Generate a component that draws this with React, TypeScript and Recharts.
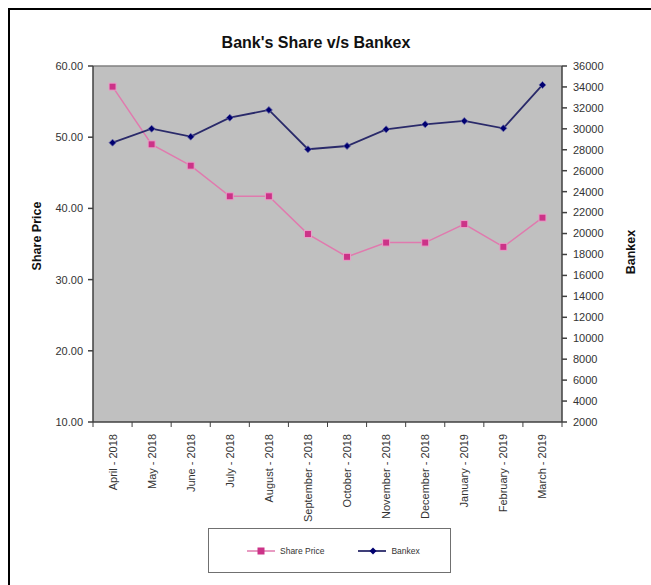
import React from "react";
import {
  LineChart,
  Line,
  XAxis,
  YAxis,
  CartesianGrid,
  Legend,
  ReferenceLine,
} from "recharts";

const months = [
  "April - 2018",
  "May - 2018",
  "June - 2018",
  "July - 2018",
  "August - 2018",
  "September - 2018",
  "October - 2018",
  "November - 2018",
  "December - 2018",
  "January - 2019",
  "February - 2019",
  "March - 2019",
];

const sharePrice = [57.1, 49.0, 46.0, 41.7, 41.7, 36.4, 33.2, 35.2, 35.2, 37.8, 34.6, 38.7];
const bankex = [28680, 30010, 29250, 31060, 31800, 28050, 28360, 29950, 30430, 30750, 30050, 34190];

const priceTicks = [10, 20, 30, 40, 50, 60];
const bankexTicks = [
  2000, 4000, 6000, 8000, 10000, 12000, 14000, 16000, 18000, 20000, 22000, 24000,
  26000, 28000, 30000, 32000, 34000, 36000,
];

const data = months.map((m, i) => ({
  month: m,
  price: sharePrice[i],
  bankex: bankex[i],
}));

const W = 641;
const H = 575;
const MARGIN = { top: 56, left: 23, right: 29, bottom: 0 };
const AXIS_W = 60;
const PLOT_W = W - MARGIN.left - MARGIN.right - AXIS_W * 2;
const BAND = PLOT_W / months.length;

const PINK = "#cc3388";
const PINK_LINE = "#e07aae";
const NAVY = "#000070";
const NAVY_LINE = "#2a2a6a";
const AXIS = "#404040";
const FONT = "'Liberation Sans', Arial, sans-serif";

const MonthTick = (props: any) => {
  const { x, y, payload, index } = props;
  return (
    <g>
      <line x1={x - BAND / 2} x2={x - BAND / 2} y1={y} y2={y + 5} stroke={AXIS} />
      {index === months.length - 1 && (
        <line x1={x + BAND / 2} x2={x + BAND / 2} y1={y} y2={y + 5} stroke={AXIS} />
      )}
      <text
        x={x}
        y={y + 12}
        transform={`rotate(-90 ${x} ${y + 12})`}
        textAnchor="end"
        dominantBaseline="central"
        fontSize={11}
        fill="#333"
      >
        {payload.value}
      </text>
    </g>
  );
};

const SquareDot = (props: any) => {
  const { cx, cy } = props;
  if (cx == null || cy == null) return null;
  return <rect x={cx - 3.5} y={cy - 3.5} width={7} height={7} fill={PINK} stroke="#e8a0c8" strokeWidth={1} />;
};

const DiamondDot = (props: any) => {
  const { cx, cy } = props;
  if (cx == null || cy == null) return null;
  return (
    <path
      d={`M${cx},${cy - 3.5}L${cx + 3.5},${cy}L${cx},${cy + 3.5}L${cx - 3.5},${cy}Z`}
      fill={NAVY}
      stroke="#6a6aa8"
      strokeWidth={0.8}
    />
  );
};

const LegendBox = () => (
  <div
    style={{
      width: 241,
      height: 43,
      border: "1.5px solid #707070",
      display: "flex",
      alignItems: "center",
      fontSize: 8.5,
      color: "#333",
      fontFamily: FONT,
    }}
  >
    <svg width={30} height={10} style={{ marginLeft: 38 }}>
      <line x1={0} x2={28} y1={5} y2={5} stroke={PINK_LINE} strokeWidth={1.5} />
      <rect x={10.5} y={1.5} width={7} height={7} fill={PINK} />
    </svg>
    <span style={{ marginLeft: 3 }}>Share Price</span>
    <svg width={30} height={10} style={{ marginLeft: 34 }}>
      <line x1={0} x2={28} y1={5} y2={5} stroke={NAVY_LINE} strokeWidth={1.8} />
      <path d="M15,1.5L18.5,5L15,8.5L11.5,5Z" fill={NAVY} />
    </svg>
    <span style={{ marginLeft: 3 }}>Bankex</span>
  </div>
);

export default function App() {
  return (
    <div
      style={{
        position: "absolute",
        left: 8,
        top: 8,
        width: W + 2,
        height: H + 2,
        boxSizing: "border-box",
        borderTop: "2px solid #000",
        borderLeft: "2px solid #000",
        background: "#fff",
        fontFamily: FONT,
        overflow: "hidden",
      }}
    >
      <LineChart width={W} height={H} data={data} margin={MARGIN}>
        <text x={306} y={38} textAnchor="middle" fontSize={16} fontWeight="bold" fill="#111">
          Bank's Share v/s Bankex
        </text>
        <text
          x={27}
          y={226}
          transform="rotate(-90 27 226)"
          textAnchor="middle"
          dominantBaseline="central"
          fontSize={12.5}
          fontWeight="bold"
          fill="#111"
        >
          Share Price
        </text>
        <text
          x={621}
          y={242}
          transform="rotate(-90 621 242)"
          textAnchor="middle"
          dominantBaseline="central"
          fontSize={12.5}
          fontWeight="bold"
          fill="#111"
        >
          Bankex
        </text>
        <CartesianGrid yAxisId="left" fill="#c0c0c0" horizontal={false} vertical={false} />
        <ReferenceLine yAxisId="left" y={60} stroke="#808080" strokeWidth={1.5} />
        <XAxis
          dataKey="month"
          interval={0}
          height={163}
          tickSize={0}
          tickMargin={0}
          tick={MonthTick}
          padding={{ left: BAND / 2, right: BAND / 2 }}
          stroke={AXIS}
          strokeWidth={1.5}
        />
        <YAxis
          yAxisId="left"
          width={AXIS_W}
          domain={[10, 60]}
          ticks={priceTicks}
          tickFormatter={(v: number) => v.toFixed(2)}
          tickSize={5}
          tickMargin={5}
          stroke={AXIS}
          strokeWidth={1.5}
          tick={{ fontSize: 11, fill: "#333" }}
          interval={0}
        />
        <YAxis
          yAxisId="right"
          orientation="right"
          width={AXIS_W}
          domain={[2000, 36000]}
          ticks={bankexTicks}
          tickSize={5}
          tickMargin={6}
          stroke={AXIS}
          strokeWidth={1.5}
          tick={{ fontSize: 11, fill: "#333" }}
          interval={0}
        />
        <Legend
          layout="horizontal"
          verticalAlign="middle"
          align="center"
          content={<LegendBox />}
          wrapperStyle={{ left: 198, top: 518, width: 244, height: 46 }}
        />
        <Line
          yAxisId="left"
          dataKey="price"
          name="Share Price"
          type="linear"
          stroke={PINK_LINE}
          strokeWidth={1.5}
          dot={SquareDot}
          activeDot={false}
          isAnimationActive={false}
        />
        <Line
          yAxisId="right"
          dataKey="bankex"
          name="Bankex"
          type="linear"
          stroke={NAVY_LINE}
          strokeWidth={1.8}
          dot={DiamondDot}
          activeDot={false}
          isAnimationActive={false}
        />
      </LineChart>
    </div>
  );
}
